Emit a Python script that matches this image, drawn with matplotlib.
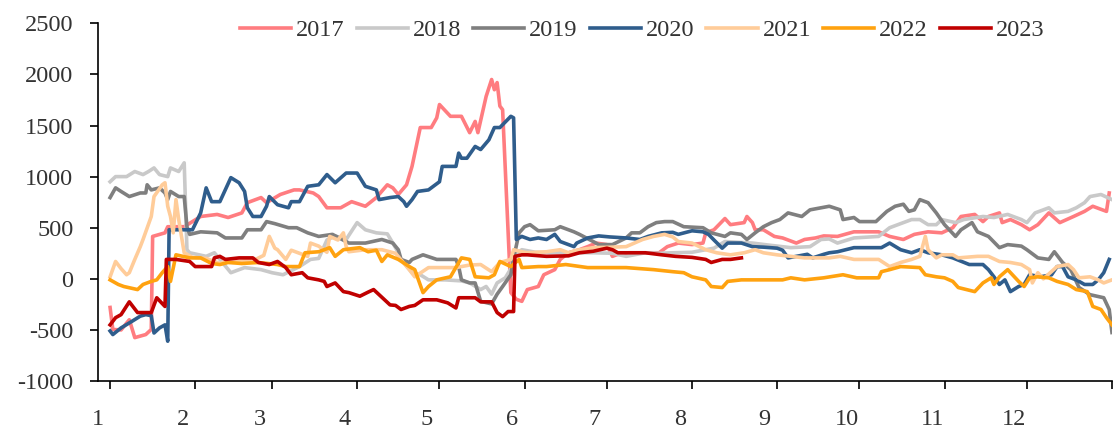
import matplotlib
matplotlib.use("Agg")
import matplotlib.pyplot as plt

plt.rcParams['font.family'] = ['Liberation Serif', 'DejaVu Serif']
plt.rcParams['axes.unicode_minus'] = False

# Day of year (0 = 1 Jan) and spread values for each season
d2017 = [0, 1, 4, 7, 9, 13, 15, 15.5, 20, 21, 27, 33, 39, 43, 48, 50, 55, 57, 62, 67, 69, 74, 76, 79, 84, 88, 93,
         97, 101, 103, 105, 108, 110, 113, 117, 119, 120, 124, 128, 131, 133, 134, 137, 139, 140, 141, 142, 143,
         146, 148, 150, 152, 156, 158, 162, 164, 167, 171, 174, 177, 181, 183, 185, 189, 195, 200, 203, 207, 212,
         216, 217, 220, 224, 226, 231, 232, 234, 235, 238, 242, 245, 250, 253, 257, 260, 265, 271, 280, 284, 289,
         293, 298, 303, 307, 310, 315, 318, 320, 324, 325, 328, 332, 335, 338, 342, 346, 351, 355, 358, 363, 364]
v2017 = [-280, -495, -500, -400, -575, -545, -495, 415, 450, 510, 510, 610, 630, 600, 645, 745, 795, 745, 825, 870,
         870, 840, 805, 695, 695, 755, 710, 795, 920, 890, 825, 920, 1100, 1480, 1480, 1575, 1705, 1590, 1590, 1430,
         1540, 1430, 1785, 1950, 1850, 1920, 1690, 1655, -135, -200, -220, -105, -75, 40, 90, 190, 255, 285, 315,
         350, 335, 220, 240, 255, 255, 255, 315, 350, 335, 350, 450, 480, 590, 530, 550, 610, 550, 480, 480, 415,
         400, 350, 385, 400, 420, 415, 460, 460, 415, 385, 435, 460, 450, 500, 610, 630, 560, 610, 645, 550, 580,
         530, 480, 530, 645, 550, 610, 660, 710, 660, 840]

d2018 = [0, 2, 6, 9, 12, 14, 16, 18, 21, 22, 25, 27, 28, 29, 35, 38, 44, 49, 55, 59, 63, 69, 73, 76, 79, 82, 86,
         90, 93, 97, 101, 103, 105, 106, 110, 113, 116, 122, 128, 131, 135, 137, 139, 141, 144, 146, 147, 150, 155,
         160, 170, 176, 183, 188, 195, 200, 205, 212, 220, 224, 234, 240, 248, 255, 259, 262, 265, 271, 280, 284,
         289, 292, 295, 298, 301, 303, 308, 311, 318, 322, 327, 332, 334, 337, 342, 344, 349, 352, 355, 357, 361,
         365]
v2018 = [950, 1000, 1000, 1050, 1020, 1050, 1085, 1020, 1000, 1085, 1050, 1135, 285, 255, 220, 255, 60, 110, 90,
         60, 40, 120, 190, 200, 380, 420, 385, 550, 480, 450, 440, 350, 255, 190, 60, 40, -10, -10, -20, -40, -105,
         -75, -150, -40, 10, 100, 220, 285, 260, 255, 255, 255, 250, 220, 255, 250, 255, 260, 300, 365, 350, 330,
         305, 315, 385, 390, 350, 400, 415, 500, 550, 580, 580, 530, 530, 580, 550, 580, 610, 600, 630, 580, 550,
         645, 695, 645, 660, 695, 745, 805, 825, 775]

d2019 = [0, 2, 4, 7, 11, 13, 13.5, 15, 18, 20, 21, 22, 25, 27, 28, 29, 33, 39, 42, 48, 50, 55, 57, 60, 65, 68, 72,
         76, 81, 87, 93, 99, 103, 105, 106, 109, 110, 114, 119, 126, 127, 128, 131, 133, 135, 139, 141, 143, 146,
         147, 149, 151, 153, 156, 162, 164, 169, 171, 176, 178, 183, 188, 190, 193, 196, 199, 202, 205, 209, 216,
         219, 224, 226, 230, 232, 235, 238, 241, 244, 247, 252, 255, 259, 262, 266, 267, 271, 273, 279, 283, 286,
         289, 291, 293, 295, 298, 301, 304, 308, 310, 314, 316, 320, 324, 327, 332, 334, 338, 342, 344, 347, 350,
         353, 357, 362, 364, 365]
v2019 = [795, 890, 855, 805, 840, 840, 920, 870, 890, 840, 775, 855, 805, 805, 510, 435, 460, 450, 400, 400, 480,
         480, 560, 540, 500, 500, 450, 415, 435, 350, 350, 385, 350, 285, 190, 160, 190, 235, 190, 190, 120, -10,
         -40, -40, -220, -245, -150, -75, 40, 200, 450, 510, 530, 470, 480, 510, 460, 435, 365, 335, 335, 400, 450,
         450, 510, 550, 560, 560, 510, 500, 450, 415, 450, 435, 385, 450, 510, 550, 580, 645, 610, 675, 695, 710,
         675, 580, 600, 560, 560, 660, 710, 730, 660, 675, 775, 745, 645, 530, 415, 480, 550, 460, 415, 305, 335,
         320, 285, 205, 190, 265, 160, 90, -85, -155, -185, -300, -525]

d2020 = [0, 1, 4, 8, 11, 13, 15, 16, 18, 20, 21, 21.5, 26, 30, 33, 35, 37, 40, 44, 47, 49, 50, 52, 55, 57, 58, 61,
         65, 66, 69, 72, 76, 79, 82, 86, 90, 93, 97, 98, 102, 105, 107, 108, 110, 112, 116, 120, 121, 126, 127, 128,
         130, 133, 135, 138, 140, 142, 146, 147, 148, 150, 153, 156, 159, 162, 164, 167, 169, 170, 174, 178, 182,
         188, 193, 196, 201, 205, 207, 212, 216, 218, 220, 223, 225, 230, 234, 238, 243, 245, 247, 250, 254, 256,
         260, 262, 265, 271, 281, 284, 288, 292, 295, 298, 303, 307, 313, 318, 320, 322, 324, 326, 328, 331, 333,
         335, 339, 343, 345, 347, 349, 352, 355, 358, 360, 362, 364]
v2020 = [-510, -545, -480, -415, -365, -350, -360, -530, -480, -450, -610, 480, 480, 480, 645, 890, 755, 755, 990,
         940, 855, 695, 610, 610, 710, 805, 725, 695, 755, 755, 905, 920, 1020, 940, 1035, 1035, 905, 870, 775, 795,
         805, 755, 710, 775, 855, 870, 950, 1100, 1100, 1230, 1180, 1180, 1295, 1265, 1360, 1480, 1480, 1590, 1575,
         385, 415, 385, 400, 385, 435, 365, 335, 315, 350, 400, 420, 410, 400, 385, 415, 450, 455, 435, 470, 460,
         435, 380, 300, 350, 350, 315, 310, 300, 280, 205, 220, 240, 205, 240, 255, 265, 305, 305, 350, 285, 255,
         285, 255, 235, 205, 140, 140, 90, 20, -55, -10, -125, -75, -55, 40, 20, 40, 120, 120, 20, -10, -55, -55,
         -10, 60, 190]

d2021 = [0, 2, 4, 6, 7, 9, 11, 12, 15, 16, 19, 20, 21, 22, 23, 24, 25, 27, 30, 35, 40, 42, 47, 53, 56, 58, 60, 61,
         64, 66, 72, 73, 76, 79, 80, 83, 85, 86, 87, 93, 99, 104, 109, 111, 116, 122, 126, 131, 135, 139, 142, 146,
         147, 150, 152, 159, 164, 167, 170, 176, 183, 188, 194, 198, 202, 205, 207, 212, 217, 221, 226, 231, 235,
         238, 243, 248, 253, 257, 262, 266, 271, 280, 284, 288, 292, 295, 297, 298, 301, 303, 307, 309, 316, 320,
         324, 328, 332, 335, 336, 338, 340, 345, 349, 351, 353, 357, 360, 362, 365]
v2021 = [20, 170, 100, 40, 60, 190, 315, 385, 610, 805, 920, 940, 710, 610, 450, 775, 580, 255, 210, 200, 150, 170,
         170, 190, 230, 415, 300, 285, 190, 280, 220, 350, 320, 260, 415, 380, 450, 315, 265, 285, 285, 250, 90, 20,
         110, 110, 110, 135, 140, 70, 160, 190, 285, 265, 255, 265, 285, 255, 280, 305, 310, 315, 385, 415, 435, 410,
         365, 350, 285, 255, 235, 255, 285, 255, 235, 220, 205, 205, 205, 220, 190, 190, 120, 160, 190, 220, 415,
         285, 205, 235, 235, 205, 220, 220, 170, 160, 140, 90, -40, 60, 0, 120, 140, 90, 10, 20, -10, -40, -10]

d2022 = [0, 3, 5, 10, 12, 15, 17, 19, 21, 22, 24, 29, 33, 37, 40, 43, 48, 54, 61, 64, 69, 71, 76, 80, 82, 85, 91,
         94, 97, 99, 101, 105, 109, 111, 114, 116, 119, 124, 128, 131, 133, 138, 140, 142, 146, 149, 150, 156, 159,
         166, 174, 183, 188, 198, 205, 209, 212, 217, 219, 223, 225, 230, 245, 248, 253, 260, 267, 272, 280, 281,
         284, 288, 295, 297, 301, 304, 307, 309, 315, 318, 321, 322, 324, 327, 331, 333, 335, 338, 342, 345, 349,
         352, 356, 358, 361, 363, 365]
v2022 = [-10, -55, -75, -105, -55, -25, -10, 60, 120, -25, 235, 205, 205, 150, 140, 160, 150, 160, 140, 120, 120,
         255, 265, 305, 220, 285, 305, 265, 280, 170, 235, 190, 120, 90, -135, -75, -10, 20, 205, 190, 20, 10, 40,
         170, 120, 190, 110, 120, 120, 140, 110, 110, 110, 90, 70, 60, 20, -10, -75, -85, -25, -10, -10, 10, -10, 10,
         40, 10, 10, 70, 90, 120, 110, 40, 20, 10, -25, -85, -125, -40, 10, -55, 20, 90, -25, -75, 10, 20, 10, -25,
         -55, -105, -125, -270, -300, -380, -450]

d2023 = [0, 2, 4, 7, 10, 15, 17, 20, 20.5, 24, 29, 31, 37, 38, 40, 42, 47, 52, 54, 58, 61, 64, 66, 70, 72, 76, 78,
         79, 82, 85, 87, 91, 94, 96, 98, 102, 104, 106, 109, 111, 114, 119, 123, 126, 127, 133, 135, 139, 141, 143,
         145, 147, 147.5, 150, 152, 159, 167, 171, 176, 181, 183, 185, 190, 195, 201, 206, 212, 217, 219, 223, 226,
         230]
v2023 = [-450, -380, -350, -225, -330, -330, -185, -270, 190, 190, 170, 120, 120, 205, 220, 190, 205, 205, 160,
         140, 170, 110, 40, 60, 10, -10, -25, -75, -40, -125, -135, -170, -130, -105, -155, -255, -260, -300, -270,
         -260, -205, -205, -235, -285, -185, -185, -225, -225, -330, -370, -320, -320, 220, 235, 235, 220, 225,
         255, 270, 300, 285, 255, 255, 255, 235, 220, 210, 190, 160, 190, 190, 205]

years = ['2017', '2018', '2019', '2020', '2021', '2022', '2023']
days = [d2017, d2018, d2019, d2020, d2021, d2022, d2023]
values = [v2017, v2018, v2019, v2020, v2021, v2022, v2023]
colors = ['#FF7C80', '#C9C9C9', '#7F7F7F', '#2F5D8C', '#FFCC99', '#FFA20F', '#C00000']

month_starts = [0, 31, 59, 90, 120, 151, 181, 212, 243, 273, 304, 334, 365]
month_labels = [str(m) for m in range(1, 13)]

fig = plt.figure(figsize=(11.17, 4.36), dpi=100)
ax = fig.add_axes([0.0875, 0.126, 0.908, 0.8206])

for yr, d, v, c in zip(years, days, values, colors):
    ax.plot(d, v, color=c, lw=2.6, label=yr, solid_joinstyle='round')

ax.set_xlim(0, 365)
ax.set_ylim(-1000, 2500)
ax.set_yticks(range(-1000, 2501, 500))

# tick marks at month boundaries, labels drawn slightly before each boundary
ax.set_xticks(month_starts)
ax.set_xticklabels([])
ax.set_xticks([m - 4.5 for m in month_starts[:-1]], minor=True)
ax.set_xticklabels(month_labels, minor=True)
ax.tick_params(axis='x', which='major', direction='out', length=5.5, width=1.2, color='black')
ax.tick_params(axis='x', which='minor', length=0, pad=20, labelsize=17.5, labelcolor='#333333')
ax.tick_params(axis='y', direction='out', length=5.5, width=1.2, pad=12, labelsize=17.5,
               labelcolor='#333333')

for side in ('top', 'right'):
    ax.spines[side].set_visible(False)
for side in ('left', 'bottom'):
    ax.spines[side].set_linewidth(1.2)
    ax.spines[side].set_color('black')

leg = ax.legend(loc='center', bbox_to_anchor=(0.537, 0.981), ncol=7, frameon=False, fontsize=17.5,
                handlelength=2.1, handletextpad=0.2, columnspacing=0.5, borderaxespad=0)
for t in leg.get_texts():
    t.set_color('#333333')

fig.savefig('out.png', dpi=100)
